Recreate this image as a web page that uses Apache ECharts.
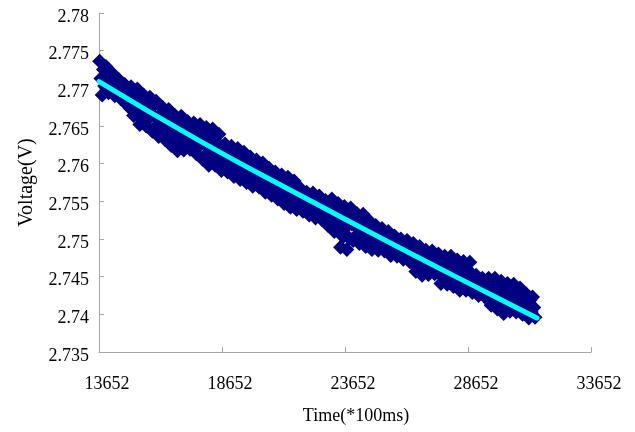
<!DOCTYPE html>
<html>
<head>
<meta charset="utf-8">
<script src="https://cdn.jsdelivr.net/npm/echarts@6/dist/echarts.min.js"></script>
<style>
  html, body { margin: 0; padding: 0; background: #ffffff; }
  #chart { width: 635px; height: 432px; }
</style>
</head>
<body>
<div id="chart"></div>
<script>
// Axis ticks
const xTicks = [13652, 18652, 23652, 28652, 33652];
const yTicks = [2.735, 2.74, 2.745, 2.75, 2.755, 2.76, 2.765, 2.77, 2.775, 2.78];

// Logged samples: time (*100 ms) and battery voltage (V)
const sampleTime = [
  13680, 13731, 13782, 13833, 13884, 13935, 13986, 14037, 14088, 14139, 14190, 14241,
  14292, 14343, 14394, 14445, 14496, 14547, 14598, 14649, 14700, 14751, 14802, 14853,
  14904, 14955, 15006, 15057, 15108, 15159, 15210, 15261, 15312, 15363, 15414, 15465,
  15516, 15567, 15618, 15669, 15720, 15771, 15822, 15873, 15924, 15975, 16026, 16077,
  16128, 16179, 16230, 16281, 16332, 16383, 16434, 16485, 16536, 16587, 16638, 16689,
  16740, 16791, 16842, 16893, 16944, 16995, 17046, 17097, 17148, 17199, 17250, 17301,
  17352, 17403, 17454, 17505, 17556, 17607, 17658, 17709, 17760, 17811, 17862, 17913,
  17964, 18015, 18066, 18117, 18168, 18219, 18270, 18321, 18372, 18423, 18474, 18525,
  18576, 18627, 18678, 18729, 18780, 18831, 18882, 18933, 18984, 19035, 19086, 19137,
  19188, 19239, 19290, 19341, 19392, 19443, 19494, 19545, 19596, 19647, 19698, 19749,
  19800, 19851, 19902, 19953, 20004, 20055, 20106, 20157, 20208, 20259, 20310, 20361,
  20412, 20463, 20514, 20565, 20616, 20667, 20718, 20769, 20820, 20871, 20922, 20973,
  21024, 21075, 21126, 21177, 21228, 21279, 21330, 21381, 21432, 21483, 21534, 21585,
  21636, 21687, 21738, 21789, 21840, 21891, 21942, 21993, 22044, 22095, 22146, 22197,
  22248, 22299, 22350, 22401, 22452, 22503, 22554, 22605, 22656, 22707, 22758, 22809,
  22860, 22911, 22962, 23013, 23064, 23115, 23166, 23217, 23268, 23319, 23370, 23421,
  23472, 23523, 23574, 23625, 23676, 23727, 23778, 23829, 23880, 23931, 23982, 24033,
  24084, 24135, 24186, 24237, 24288, 24339, 24390, 24441, 24492, 24543, 24594, 24645,
  24696, 24747, 24798, 24849, 24900, 24951, 25002, 25053, 25104, 25155, 25206, 25257,
  25308, 25359, 25410, 25461, 25512, 25563, 25614, 25665, 25716, 25767, 25818, 25869,
  25920, 25971, 26022, 26073, 26124, 26175, 26226, 26277, 26328, 26379, 26430, 26481,
  26532, 26583, 26634, 26685, 26736, 26787, 26838, 26889, 26940, 26991, 27042, 27093,
  27144, 27195, 27246, 27297, 27348, 27399, 27450, 27501, 27552, 27603, 27654, 27705,
  27756, 27807, 27858, 27909, 27960, 28011, 28062, 28113, 28164, 28215, 28266, 28317,
  28368, 28419, 28470, 28521, 28572, 28623, 28674, 28725, 28776, 28827, 28878, 28929,
  28980, 29031, 29082, 29133, 29184, 29235, 29286, 29337, 29388, 29439, 29490, 29541,
  29592, 29643, 29694, 29745, 29796, 29847, 29898, 29949, 30000, 30051, 30102, 30153,
  30204, 30255, 30306, 30357, 30408, 30459, 30510, 30561, 30612, 30663, 30714, 30765,
  30816, 30867, 30918, 30969, 31020, 31071, 31122, 31173, 31224, 31275, 31326, 31377
];
const sampleVoltage = [
  2.7736, 2.7713, 2.7691, 2.7725, 2.7703, 2.7729, 2.7711, 2.7694, 2.7713, 2.7699, 2.7720, 2.7706,
  2.7690, 2.7706, 2.7695, 2.7712, 2.7697, 2.7686, 2.7703, 2.7691, 2.7705, 2.7692, 2.7678, 2.7699,
  2.7674, 2.7702, 2.7683, 2.7664, 2.7688, 2.7666, 2.7699, 2.7677, 2.7652, 2.7681, 2.7662, 2.7691,
  2.7671, 2.7650, 2.7682, 2.7660, 2.7688, 2.7666, 2.7643, 2.7677, 2.7648, 2.7683, 2.7660, 2.7636,
  2.7665, 2.7644, 2.7675, 2.7654, 2.7632, 2.7662, 2.7642, 2.7672, 2.7647, 2.7624, 2.7658, 2.7636,
  2.7664, 2.7640, 2.7617, 2.7652, 2.7629, 2.7663, 2.7640, 2.7618, 2.7648, 2.7631, 2.7656, 2.7640,
  2.7619, 2.7645, 2.7628, 2.7654, 2.7633, 2.7613, 2.7643, 2.7623, 2.7652, 2.7629, 2.7606, 2.7641,
  2.7611, 2.7648, 2.7623, 2.7598, 2.7634, 2.7612, 2.7646, 2.7623, 2.7598, 2.7629, 2.7608, 2.7639,
  2.7609, 2.7591, 2.7618, 2.7600, 2.7626, 2.7607, 2.7589, 2.7617, 2.7593, 2.7623, 2.7603, 2.7583,
  2.7611, 2.7591, 2.7620, 2.7601, 2.7579, 2.7606, 2.7588, 2.7615, 2.7594, 2.7575, 2.7603, 2.7585,
  2.7609, 2.7589, 2.7570, 2.7599, 2.7578, 2.7605, 2.7587, 2.7569, 2.7592, 2.7575, 2.7601, 2.7583,
  2.7562, 2.7586, 2.7570, 2.7594, 2.7575, 2.7558, 2.7583, 2.7566, 2.7589, 2.7571, 2.7553, 2.7580,
  2.7557, 2.7585, 2.7566, 2.7547, 2.7572, 2.7553, 2.7582, 2.7563, 2.7542, 2.7568, 2.7551, 2.7577,
  2.7555, 2.7539, 2.7563, 2.7547, 2.7567, 2.7552, 2.7537, 2.7560, 2.7539, 2.7562, 2.7547, 2.7532,
  2.7553, 2.7537, 2.7561, 2.7545, 2.7528, 2.7549, 2.7535, 2.7557, 2.7538, 2.7526, 2.7544, 2.7532,
  2.7551, 2.7535, 2.7518, 2.7543, 2.7521, 2.7553, 2.7532, 2.7510, 2.7537, 2.7515, 2.7547, 2.7526,
  2.7489, 2.7530, 2.7503, 2.7543, 2.7515, 2.7486, 2.7529, 2.7501, 2.7541, 2.7520, 2.7498, 2.7530,
  2.7504, 2.7534, 2.7514, 2.7494, 2.7523, 2.7503, 2.7533, 2.7513, 2.7490, 2.7515, 2.7499, 2.7524,
  2.7504, 2.7486, 2.7513, 2.7495, 2.7518, 2.7502, 2.7485, 2.7510, 2.7491, 2.7514, 2.7499, 2.7484,
  2.7503, 2.7488, 2.7510, 2.7496, 2.7478, 2.7497, 2.7485, 2.7504, 2.7489, 2.7477, 2.7495, 2.7483,
  2.7500, 2.7486, 2.7473, 2.7493, 2.7477, 2.7498, 2.7484, 2.7470, 2.7486, 2.7468, 2.7494, 2.7477,
  2.7457, 2.7482, 2.7465, 2.7490, 2.7469, 2.7452, 2.7478, 2.7460, 2.7485, 2.7469, 2.7453, 2.7477,
  2.7462, 2.7484, 2.7469, 2.7454, 2.7472, 2.7456, 2.7480, 2.7464, 2.7441, 2.7468, 2.7450, 2.7477,
  2.7458, 2.7440, 2.7468, 2.7449, 2.7477, 2.7457, 2.7437, 2.7467, 2.7442, 2.7472, 2.7452, 2.7432,
  2.7460, 2.7441, 2.7470, 2.7451, 2.7432, 2.7460, 2.7441, 2.7469, 2.7443, 2.7429, 2.7450, 2.7436,
  2.7452, 2.7439, 2.7425, 2.7445, 2.7429, 2.7448, 2.7435, 2.7423, 2.7441, 2.7426, 2.7448, 2.7433,
  2.7412, 2.7439, 2.7421, 2.7448, 2.7426, 2.7407, 2.7436, 2.7416, 2.7444, 2.7423, 2.7401, 2.7433,
  2.7413, 2.7441, 2.7423, 2.7404, 2.7431, 2.7414, 2.7440, 2.7423, 2.7403, 2.7427, 2.7411, 2.7435,
  2.7415, 2.7400, 2.7423, 2.7408, 2.7427, 2.7411, 2.7395, 2.7419, 2.7403, 2.7423, 2.7409, 2.7396
];

// Fitted discharge trend
const trendTime = [13652, 17652, 21652, 25652, 29652, 31450];
const trendVoltage = [2.7709, 2.7632, 2.7561, 2.7492, 2.7425, 2.7395];

const serif = "'Liberation Serif', 'Times New Roman', serif";
const axisGray = '#a6a6a6';

const samples = sampleTime.map((t, i) => [t, sampleVoltage[i]]);
const trend = trendTime.map((t, i) => [t, trendVoltage[i]]);

const chart = echarts.init(document.getElementById('chart'), null, { renderer: 'canvas' });
chart.setOption({
  animation: false,
  backgroundColor: '#ffffff',
  grid: { left: 99, right: 44, top: 13, bottom: 80, containLabel: false },
  xAxis: {
    type: 'value',
    min: xTicks[0],
    max: xTicks[xTicks.length - 1],
    interval: xTicks[1] - xTicks[0],
    name: 'Time(*100ms)',
    nameLocation: 'middle',
    nameGap: 55,
    nameTextStyle: { fontFamily: serif, fontSize: 18, color: '#000', padding: [0, 0, 0, 22] },
    axisLine: { show: true, lineStyle: { color: axisGray, width: 1 } },
    axisTick: { show: true, inside: true, length: 5, lineStyle: { color: axisGray } },
    splitLine: { show: false },
    axisLabel: {
      fontFamily: serif, fontSize: 18, color: '#000', margin: 23,
      padding: [0, 0, 0, 16],
      formatter: v => String(Math.round(v))
    }
  },
  yAxis: {
    type: 'value',
    min: yTicks[0],
    max: yTicks[yTicks.length - 1],
    interval: 0.005,
    name: 'Voltage(V)',
    nameLocation: 'middle',
    nameGap: 62,
    nameTextStyle: { fontFamily: serif, fontSize: 20, color: '#000' },
    axisLine: { show: true, lineStyle: { color: axisGray, width: 1 } },
    axisTick: { show: true, inside: true, length: 5, lineStyle: { color: axisGray } },
    splitLine: { show: false },
    axisLabel: {
      fontFamily: serif, fontSize: 18, color: '#000', margin: 10,
      verticalAlign: 'top', lineHeight: 8,
      formatter: v => String(+v.toFixed(3))
    }
  },
  series: [
    {
      type: 'scatter',
      data: samples,
      symbol: 'diamond',
      symbolSize: 15,
      itemStyle: { color: '#000080', opacity: 1 },
      z: 2
    },
    {
      type: 'line',
      data: trend,
      smooth: true,
      showSymbol: false,
      symbol: 'none',
      lineStyle: { color: '#00ffff', width: 5, cap: 'round' },
      z: 3
    }
  ]
});
</script>
</body>
</html>
